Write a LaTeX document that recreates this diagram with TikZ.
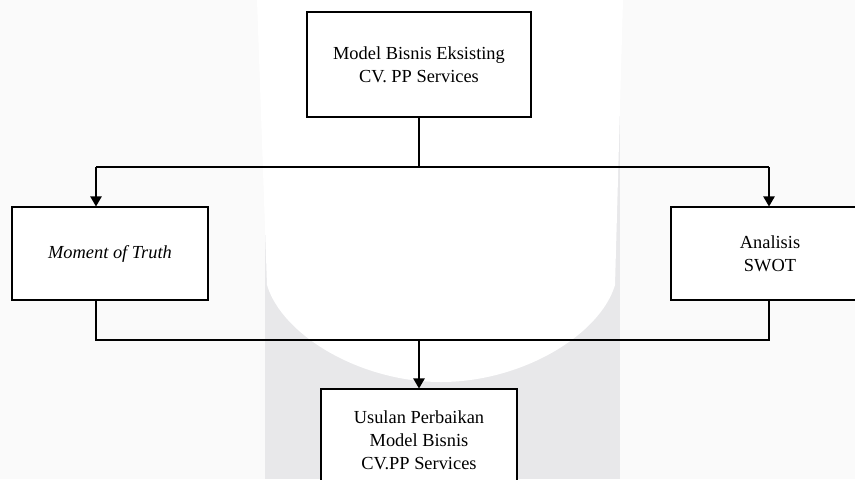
\documentclass[tikz,border=0pt]{standalone}
\usepackage{fontspec}
\setmainfont{Liberation Serif}
\usetikzlibrary{arrows.meta}
\definecolor{wmback}{HTML}{FAFAFA}
\definecolor{wmband}{HTML}{E8E8EA}

\begin{document}
\begin{tikzpicture}[x=0.75pt, y=-0.75pt,
    box/.style={draw, rectangle, line width=0.8pt, align=center, inner sep=0pt,
        font=\fontsize{13.8}{17.2}\selectfont},
    link/.style={line width=0.9pt},
    arr/.style={link, -{Triangle[length=7.5pt,width=8.5pt]}}]
    \useasboundingbox (0,0) rectangle (855,479);
    \begin{scope}
    \clip (0,0) rectangle (855,479);

    % Watermark
    \fill[wmback] (0,0) rectangle (855,479);
    \fill[wmband] (265,0) rectangle (620,479);
    \fill[white] (257,0) -- (267,285) .. controls (282,335) and (360,382) .. (441,382)
        .. controls (522,382) and (600,335) .. (615,285) -- (623,0) -- cycle;

    % Boxes
    \node[box, fill=white, minimum width=168pt, minimum height=78.75pt] (model) at (419,64.5)
        {Model Bisnis Eksisting\\CV. PP Services};
    \node[box, fill=white, minimum width=147pt, minimum height=69.75pt] (mot) at (110,253.5)
        {\textit{Moment of Truth}};
    \node[box, fill=white, minimum width=148.5pt, minimum height=69.75pt] (swot) at (770,253.5)
        {Analisis\\SWOT};
    \node[box, fill=white, minimum width=147pt, minimum height=76.5pt] (usulan) at (419,440)
        {Usulan Perbaikan\\Model Bisnis\\CV.PP Services};

    % Connectors
    \coordinate (split) at (419,167);
    \coordinate (splitl) at (96,167);
    \coordinate (splitr) at (769,167);
    \coordinate (joinl) at (96,340);
    \coordinate (joinr) at (769,340);
    \coordinate (join) at (419,340);

    \draw[link] (model) -- (split);
    \draw[link] (splitl) -- (splitr);
    \draw[arr] (splitl) -- (splitl |- mot.north);
    \draw[arr] (splitr) -- (splitr |- swot.north);
    \draw[link] (joinl |- mot.south) -- (joinl) -- (joinr) -- (joinr |- swot.south);
    \draw[arr] (join) -- (usulan);
    \end{scope}
\end{tikzpicture}
\end{document}
